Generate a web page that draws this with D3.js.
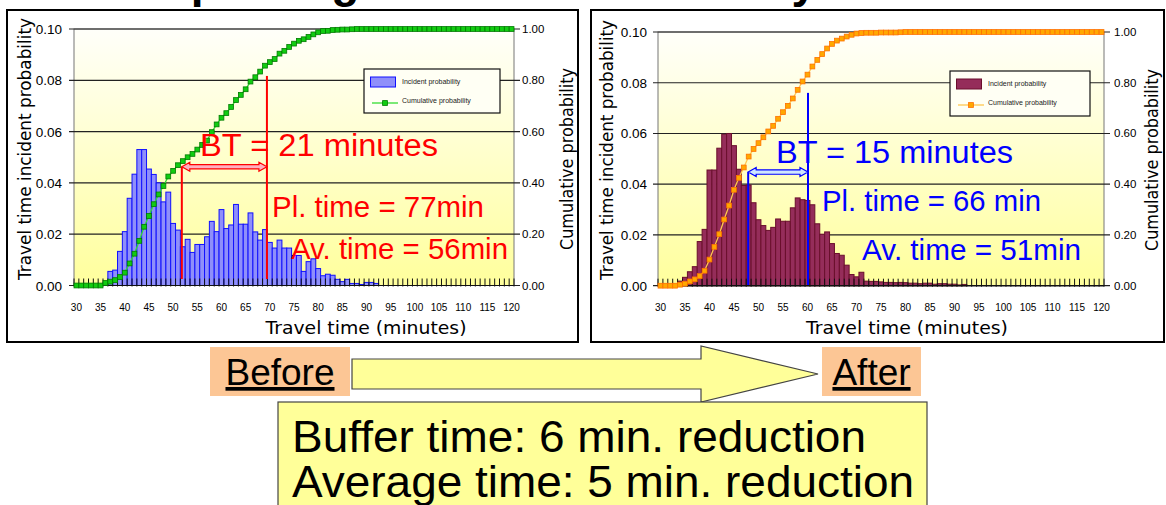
<!DOCTYPE html>
<html>
<head>
<meta charset="utf-8">
<script src="https://cdn.jsdelivr.net/npm/d3@7"></script>
<style>
  html, body { margin: 0; padding: 0; background: #fff; }
  svg { display: block; }
</style>
</head>
<body>
<svg id="canvas" width="1166" height="505"></svg>
<script>
// ===== Data =====
const minutes = [30, 31, 32, 33, 34, 35, 36, 37, 38, 39, 40, 41, 42, 43, 44, 45, 46, 47, 48, 49,
  50, 51, 52, 53, 54, 55, 56, 57, 58, 59, 60, 61, 62, 63, 64, 65, 66, 67, 68, 69,
  70, 71, 72, 73, 74, 75, 76, 77, 78, 79, 80, 81, 82, 83, 84, 85, 86, 87, 88, 89,
  90, 91, 92, 93, 94, 95, 96, 97, 98, 99, 100, 101, 102, 103, 104, 105, 106, 107, 108, 109,
  110, 111, 112, 113, 114, 115, 116, 117, 118, 119, 120];
const xTickLabels = [30, 35, 40, 45, 50, 55, 60, 65, 70, 75, 80, 85, 90, 95, 100, 105, 110, 115, 120];
const probTicks = [0, 0.02, 0.04, 0.06, 0.08, 0.10];
const cumTicks = [0, 0.2, 0.4, 0.6, 0.8, 1.0];

// Before: incident probability per minute (30..120)
const beforeIncident = [0, 0, 0, 0, 0, 0, 0.001, 0.0055, 0.006, 0.0133,
  0.021, 0.034, 0.0434, 0.053, 0.053, 0.0454, 0.0433, 0.040, 0.0326, 0.0364,
  0.0242, 0.0216, 0.0151, 0.018, 0.0129, 0.016, 0.016, 0.019, 0.025, 0.021,
  0.0296, 0.0222, 0.0236, 0.0316, 0.0239, 0.0239, 0.0283, 0.0209, 0.0177, 0.0218,
  0.0168, 0.0146, 0.0177, 0.0146, 0.0146, 0.0117, 0.0117, 0.0055, 0.0093, 0.0104,
  0.0066, 0.0038, 0.0044, 0.004, 0.0024, 0.0015, 0.0024, 0.0008, 0.0008, 0.0004,
  0.0012, 0.0012, 0.0008, 0, 0, 0, 0, 0, 0, 0,
  0, 0, 0, 0, 0, 0, 0, 0, 0, 0,
  0, 0, 0, 0, 0, 0, 0, 0, 0, 0, 0];
const beforeCumulative = [0, 0, 0, 0, 0, 0, 0.01, 0.015, 0.021, 0.033,
  0.05, 0.086, 0.124, 0.174, 0.229, 0.271, 0.317, 0.355, 0.388, 0.425,
  0.447, 0.469, 0.485, 0.5, 0.513, 0.53, 0.548, 0.565, 0.598, 0.628,
  0.654, 0.672, 0.696, 0.723, 0.743, 0.765, 0.795, 0.812, 0.834, 0.857,
  0.871, 0.883, 0.904, 0.915, 0.93, 0.943, 0.954, 0.96, 0.969, 0.979,
  0.987, 0.992, 0.993, 0.996, 0.997, 0.998, 0.998, 0.999, 1, 1,
  1, 1, 1, 1, 1, 1, 1, 1, 1, 1,
  1, 1, 1, 1, 1, 1, 1, 1, 1, 1,
  1, 1, 1, 1, 1, 1, 1, 1, 1, 1, 1];

// After
const afterIncident = [0, 0, 0, 0, 0.0018, 0.0033, 0.0055, 0.0075, 0.0174, 0.0222,
  0.0456, 0.0456, 0.0542, 0.0597, 0.060, 0.0552, 0.0459, 0.0395, 0.0397, 0.0327,
  0.026, 0.0237, 0.0218, 0.023, 0.0263, 0.0254, 0.0254, 0.0307, 0.0346, 0.0339,
  0.0336, 0.0319, 0.0244, 0.0203, 0.0212, 0.0166, 0.0127, 0.012, 0.0081, 0.0044,
  0.0035, 0.0053, 0.0018, 0.0017, 0.0017, 0.0015, 0.0013, 0.0013, 0.0012, 0.0013,
  0.0012, 0.001, 0.001, 0.0008, 0.001, 0.001, 0.0006, 0.0008, 0.0008, 0.0006,
  0.0006, 0.0003, 0.0005, 0, 0, 0, 0, 0, 0, 0,
  0, 0, 0, 0, 0, 0, 0, 0, 0, 0,
  0, 0, 0, 0, 0, 0, 0, 0, 0, 0, 0];
const afterCumulative = [0, 0, 0, 0, 0.004, 0.008, 0.017, 0.025, 0.038, 0.059,
  0.103, 0.153, 0.203, 0.261, 0.316, 0.378, 0.425, 0.466, 0.509, 0.539,
  0.562, 0.585, 0.608, 0.63, 0.658, 0.684, 0.709, 0.738, 0.772, 0.805,
  0.832, 0.864, 0.89, 0.913, 0.935, 0.953, 0.966, 0.974, 0.982, 0.989,
  0.994, 0.996, 0.997, 0.997, 0.997, 0.998, 0.998, 0.998, 0.998, 0.999,
  1, 1, 1, 1, 1, 1, 1, 1, 1, 1,
  1, 1, 1, 1, 1, 1, 1, 1, 1, 1,
  1, 1, 1, 1, 1, 1, 1, 1, 1, 1,
  1, 1, 1, 1, 1, 1, 1, 1, 1, 1, 1];

const legendLabels = ["Incident probability", "Cumulative probability"];
const beforeNotes = ["BT = 21 minutes", "Pl. time = 77min", "Av. time = 56min"];
const afterNotes = ["BT = 15 minutes", "Pl. time = 66 min", "Av. time = 51min"];
// buffer arrow: [from minute, to minute, at cumulative level]
const beforeBuffer = [51.8, 69.4, 0.463];
const afterBuffer = [47.9, 60.1, 0.448];
// planning-time line: [minute, top (cumulative level)]
const beforePlanned = [69.4, 0.817];
const afterPlanned = [60.1, 0.76];
const summaryLines = ["Buffer time: 6 min. reduction", "Average time: 5 min. reduction"];

// ===== Basis SVG =====
const svg = d3.select("#canvas");
const defs = svg.append("defs");
const grad = defs.append("linearGradient")
  .attr("id", "plotBg").attr("x1", 0).attr("y1", 0).attr("x2", 0).attr("y2", 1);
grad.append("stop").attr("offset", "0%").attr("stop-color", "#fffffa");
grad.append("stop").attr("offset", "100%").attr("stop-color", "#ffff9c");

const SANS = "'Liberation Sans', Arial, sans-serif";
const WIDE = "'DejaVu Sans', Verdana, sans-serif";

// slide title, almost entirely above the top edge (only descenders show)
svg.append("text")
  .attr("x", 137).attr("y", -3)
  .attr("font-family", SANS).attr("font-weight", "bold").attr("font-size", 46)
  .text("Improving travel time reliability");

function drawPanel(p) {
  const g = svg.append("g");

  // frame
  g.append("rect")
    .attr("x", p.frame[0]).attr("y", p.frame[1])
    .attr("width", p.frame[2] - p.frame[0]).attr("height", p.frame[3] - p.frame[1])
    .attr("fill", "#fff").attr("stroke", "#000").attr("stroke-width", 2);

  const x = d3.scaleBand().domain(p.cats).range([p.x0, p.x1]).padding(0);
  const xm = d3.scaleLinear().domain([p.cats[0] - 0.5, p.cats[p.cats.length - 1] + 0.5]).range([p.x0, p.x1]);
  const y = d3.scaleLinear().domain([0, 0.10]).range([p.yBot, p.yTop]);
  const y2 = d3.scaleLinear().domain([0, 1]).range([p.yBot, p.yTop]);

  // plot background
  g.append("rect")
    .attr("x", p.x0).attr("y", p.yTop)
    .attr("width", p.x1 - p.x0).attr("height", p.yBot - p.yTop)
    .attr("fill", "url(#plotBg)").attr("stroke", "#777").attr("stroke-width", 1);

  // gridlines (also act as ticks on both sides)
  g.selectAll(".grid").data(probTicks).enter().append("line")
    .attr("x1", p.x0 - 5).attr("x2", p.x1 + 6)
    .attr("y1", d => y(d)).attr("y2", d => y(d))
    .attr("stroke", "#222").attr("stroke-width", 1.2);

  // legend box (covers gridline behind it)
  const L = p.legend;
  g.append("rect")
    .attr("x", L[0]).attr("y", L[1]).attr("width", L[2] - L[0]).attr("height", L[3] - L[1])
    .attr("fill", "#fffff4").attr("stroke", "#111").attr("stroke-width", 1.2);

  // bars
  const bars = p.cats.map((c, i) => ({ c: c, v: p.incident[i] })).filter(d => d.v > 0);
  g.selectAll(".bar").data(bars).enter().append("rect")
    .attr("x", d => x(d.c)).attr("width", x.bandwidth())
    .attr("y", d => y(d.v)).attr("height", d => y(0) - y(d.v))
    .attr("fill", p.barFill).attr("stroke", p.barStroke).attr("stroke-width", 1);

  // category ticks
  const edges = p.cats.map(c => x(c)).concat([p.x1]);
  g.selectAll(".xtick").data(edges).enter().append("line")
    .attr("x1", d => d).attr("x2", d => d)
    .attr("y1", p.yBot - 7).attr("y2", p.yBot + 1)
    .attr("stroke", "#111").attr("stroke-width", 1);
  g.append("line")
    .attr("x1", p.x0).attr("x2", p.x1).attr("y1", p.yBot).attr("y2", p.yBot)
    .attr("stroke", "#111").attr("stroke-width", 1.2);

  // cumulative line + markers
  const pts = p.cats.map((c, i) => [xm(c), y2(p.cumulative[i])]);
  g.append("path")
    .attr("d", d3.line()(pts))
    .attr("fill", "none").attr("stroke", p.lineColor).attr("stroke-width", 1.3);
  g.selectAll(".mk").data(pts).enter().append("rect")
    .attr("x", d => d[0] - 2.4).attr("y", d => d[1] - 2.4)
    .attr("width", 4.8).attr("height", 4.8)
    .attr("fill", p.markerFill).attr("stroke", p.markerStroke).attr("stroke-width", 0.8);

  // legend content
  g.append("rect")
    .attr("x", L[0] + 6.5).attr("y", L[1] + 8).attr("width", 25).attr("height", 10)
    .attr("fill", p.barFill).attr("stroke", p.barStroke).attr("stroke-width", 1);
  g.append("line")
    .attr("x1", L[0] + 8).attr("x2", L[0] + 34).attr("y1", L[1] + 34).attr("y2", L[1] + 34)
    .attr("stroke", p.lineColor).attr("stroke-width", 1.3);
  g.append("rect")
    .attr("x", L[0] + 21 - 2.4).attr("y", L[1] + 34 - 2.4).attr("width", 4.8).attr("height", 4.8)
    .attr("fill", p.markerFill).attr("stroke", p.markerStroke).attr("stroke-width", 0.8);
  g.selectAll(".lg").data(legendLabels).enter().append("text")
    .attr("x", L[0] + 38).attr("y", (d, i) => L[1] + 15 + i * 19)
    .attr("font-family", SANS).attr("font-size", 7).attr("fill", "#222")
    .text(d => d);

  // buffer-time lines and arrow
  const bLeft = xm(p.buffer[0]), bRight = xm(p.buffer[1]), bY = y2(p.buffer[2]);
  g.append("line")
    .attr("x1", bLeft).attr("x2", bLeft).attr("y1", bY).attr("y2", p.lineBottom)
    .attr("stroke", p.noteColor).attr("stroke-width", 2);
  const pl = xm(p.planned[0]);
  g.append("line")
    .attr("x1", pl).attr("x2", pl).attr("y1", y2(p.planned[1])).attr("y2", p.lineBottom)
    .attr("stroke", p.noteColor).attr("stroke-width", 2);
  const hl = 8, hh = 4.5, sh = 2.2;
  const arrow = [[bLeft, bY], [bLeft + hl, bY - hh], [bLeft + hl, bY - sh], [bRight - hl, bY - sh],
    [bRight - hl, bY - hh], [bRight, bY], [bRight - hl, bY + hh], [bRight - hl, bY + sh],
    [bLeft + hl, bY + sh], [bLeft + hl, bY + hh]];
  g.append("path")
    .attr("d", d3.line()(arrow) + "Z")
    .attr("fill", p.arrowFill).attr("stroke", p.noteColor).attr("stroke-width", 1.2);

  // notes
  g.selectAll(".note").data(p.notes).enter().append("text")
    .attr("x", (d, i) => p.notePos[i][0]).attr("y", (d, i) => p.notePos[i][1])
    .attr("textLength", (d, i) => p.notePos[i][2]).attr("lengthAdjust", "spacingAndGlyphs")
    .attr("font-family", SANS).attr("font-size", (d, i) => i === 0 ? 31 : 30)
    .attr("fill", p.noteColor)
    .text(d => d);

  // axis labels
  g.selectAll(".yl").data(probTicks).enter().append("text")
    .attr("x", p.leftLabelX).attr("y", d => y(d) + 5)
    .attr("text-anchor", "end")
    .attr("font-family", SANS).attr("font-size", 13.5)
    .text(d => d3.format(".2f")(d));
  g.selectAll(".y2l").data(cumTicks).enter().append("text")
    .attr("x", p.rightLabelX).attr("y", d => y2(d) + 4)
    .attr("font-family", SANS).attr("font-size", 11.5)
    .text(d => d3.format(".2f")(d));
  g.selectAll(".xl").data(xTickLabels).enter().append("text")
    .attr("x", d => xm(d)).attr("y", p.yBot + 25)
    .attr("text-anchor", "middle")
    .attr("font-family", SANS).attr("font-size", 10)
    .text(d => d);

  // axis titles
  g.append("text")
    .attr("transform", `translate(${p.yTitle[0]},${p.yTitle[1]}) rotate(-90)`)
    .attr("text-anchor", "middle").attr("dy", "0.35em")
    .attr("textLength", p.yTitle[2]).attr("lengthAdjust", "spacingAndGlyphs")
    .attr("font-family", WIDE).attr("font-size", 17)
    .text("Travel time incident probability");
  g.append("text")
    .attr("transform", `translate(${p.y2Title[0]},${p.y2Title[1]}) rotate(-90)`)
    .attr("text-anchor", "middle").attr("dy", "0.35em")
    .attr("textLength", p.y2Title[2]).attr("lengthAdjust", "spacingAndGlyphs")
    .attr("font-family", WIDE).attr("font-size", 17)
    .text("Cumulative probability");
  g.append("text")
    .attr("x", p.xTitle[0]).attr("y", p.xTitle[1])
    .attr("text-anchor", "middle")
    .attr("textLength", p.xTitle[2]).attr("lengthAdjust", "spacingAndGlyphs")
    .attr("font-family", WIDE).attr("font-size", 17.5)
    .text("Travel time (minutes)");
}

drawPanel({
  cats: minutes, incident: beforeIncident, cumulative: beforeCumulative,
  frame: [7, 10, 578, 342],
  x0: 74, x1: 514, yTop: 29, yBot: 285.5, lineBottom: 279,
  barFill: "#8f8ffa", barStroke: "#1010ff",
  lineColor: "#33dd33", markerFill: "#11cc11", markerStroke: "#007a00",
  legend: [364, 69, 500, 113],
  buffer: beforeBuffer, planned: beforePlanned,
  noteColor: "#ff0000", arrowFill: "#ffb0c0",
  notes: beforeNotes, notePos: [[200, 156, 238], [272, 217, 212], [291, 258.5, 217]],
  leftLabelX: 62, rightLabelX: 522,
  yTitle: [25, 149, 262], y2Title: [567, 159, 182], xTitle: [366, 334, 201]
});

drawPanel({
  cats: minutes, incident: afterIncident, cumulative: afterCumulative,
  frame: [591, 10, 1164, 342],
  x0: 658, x1: 1104, yTop: 32, yBot: 285.7, lineBottom: 285,
  barFill: "#952d5a", barStroke: "#6a0f2c",
  lineColor: "#ffc850", markerFill: "#ffa800", markerStroke: "#ff7000",
  legend: [950, 71, 1090, 116],
  buffer: afterBuffer, planned: afterPlanned,
  noteColor: "#0000ff", arrowFill: "#cfe6ff",
  notes: afterNotes, notePos: [[776, 163, 237], [822, 211, 219], [862, 260, 219]],
  leftLabelX: 647, rightLabelX: 1114,
  yTitle: [607, 150, 260], y2Title: [1152, 160, 182], xTitle: [907, 334, 202]
});

// ===== Before -> After =====
const bottom = svg.append("g");
bottom.append("path")
  .attr("d", d3.line()([[352, 359], [701, 359], [701, 346], [818, 374], [701, 402], [701, 389], [352, 389]]) + "Z")
  .attr("fill", "#ffff99").attr("stroke", "#444").attr("stroke-width", 1.2);

const tags = [["Before", 210, 350], ["After", 822, 921]];
tags.forEach(function (t) {
  bottom.append("rect")
    .attr("x", t[1]).attr("y", 347).attr("width", t[2] - t[1]).attr("height", 49)
    .attr("fill", "#fcc695");
  bottom.append("text")
    .attr("x", (t[1] + t[2]) / 2).attr("y", 385)
    .attr("text-anchor", "middle")
    .attr("font-family", SANS).attr("font-size", 37)
    .attr("text-decoration", "underline")
    .text(t[0]);
});

bottom.append("rect")
  .attr("x", 278).attr("y", 402).attr("width", 649).attr("height", 110)
  .attr("fill", "#ffff99").attr("stroke", "#444").attr("stroke-width", 1.2);
bottom.selectAll(".sum").data(summaryLines).enter().append("text")
  .attr("x", 292).attr("y", (d, i) => 452 + i * 45)
  .attr("textLength", (d, i) => i === 0 ? 574 : 622).attr("lengthAdjust", "spacingAndGlyphs")
  .attr("font-family", SANS).attr("font-size", 44)
  .text(d => d);
</script>
</body>
</html>
